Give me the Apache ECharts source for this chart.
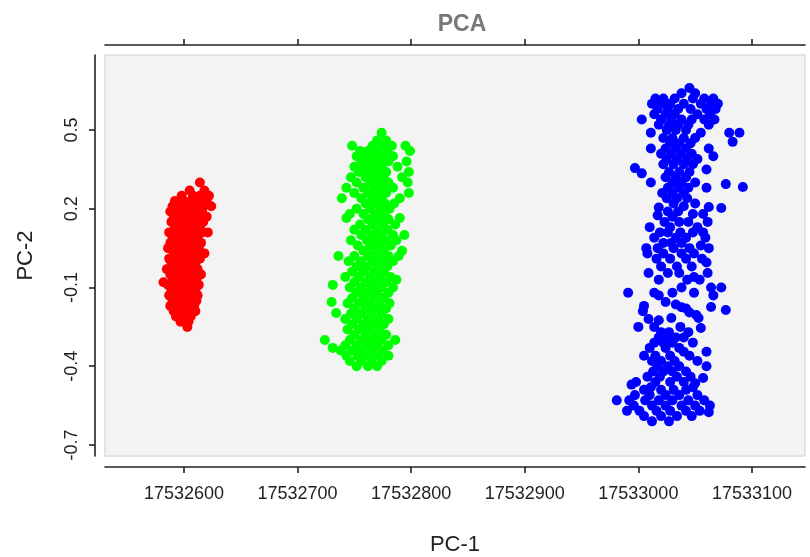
<!DOCTYPE html>
<html>
<head>
<meta charset="utf-8">
<script src="https://cdn.jsdelivr.net/npm/echarts@6/dist/echarts.min.js"></script>
<style>html,body{margin:0;padding:0;background:#fff}#c{width:810px;height:557px}</style>
</head>
<body>
<div id="c"></div>
<script>
const chartTitle = "PCA";
const xName = "PC-1";
const yName = "PC-2";
const xTicks = [17532600, 17532700, 17532800, 17532900, 17533000, 17533100];
const yTicks = [-0.7, -0.4, -0.1, 0.2, 0.5];
const xRange = [17532530.5, 17533146.7];
const yRange = [-0.742, 0.786];

const redPoints = [
[17532614,0.30],
[17532605,0.27],[17532618,0.27],
[17532598,0.25],[17532608,0.25],[17532614,0.25],[17532622,0.25],
[17532592,0.23],[17532600,0.23],[17532606,0.23],[17532613,0.23],[17532620,0.23],
[17532590,0.21],[17532597,0.21],[17532604,0.21],[17532611,0.21],[17532617,0.21],[17532624,0.21],
[17532588,0.19],[17532595,0.19],[17532602,0.19],[17532609,0.19],[17532616,0.19],
[17532591,0.17],[17532599,0.17],[17532606,0.17],[17532613,0.17],[17532620,0.17],
[17532589,0.15],[17532596,0.15],[17532603,0.15],[17532610,0.15],[17532617,0.15],
[17532592,0.13],[17532600,0.13],[17532607,0.13],[17532614,0.13],
[17532587,0.11],[17532595,0.11],[17532602,0.11],[17532609,0.11],[17532616,0.11],[17532621,0.11],
[17532590,0.09],[17532598,0.09],[17532605,0.09],[17532612,0.09],
[17532588,0.07],[17532594,0.07],[17532601,0.07],[17532608,0.07],[17532615,0.07],
[17532586,0.05],[17532593,0.05],[17532600,0.05],[17532606,0.05],[17532613,0.05],
[17532591,0.03],[17532598,0.03],[17532605,0.03],[17532611,0.03],[17532618,0.03],
[17532587,0.01],[17532594,0.01],[17532601,0.01],[17532608,0.01],[17532614,0.01],
[17532589,-0.01],[17532596,-0.01],[17532603,-0.01],[17532610,-0.01],
[17532585,-0.03],[17532592,-0.03],[17532599,-0.03],[17532606,-0.03],[17532612,-0.03],
[17532588,-0.05],[17532595,-0.05],[17532602,-0.05],[17532609,-0.05],[17532615,-0.05],
[17532590,-0.07],[17532597,-0.07],[17532604,-0.07],[17532611,-0.07],
[17532582,-0.08],
[17532586,-0.09],[17532593,-0.09],[17532600,-0.09],[17532607,-0.09],[17532613,-0.09],
[17532589,-0.11],[17532596,-0.11],[17532603,-0.11],[17532610,-0.11],
[17532587,-0.13],[17532594,-0.13],[17532601,-0.13],[17532608,-0.13],[17532612,-0.13],
[17532590,-0.15],[17532597,-0.15],[17532604,-0.15],[17532611,-0.15],
[17532588,-0.17],[17532595,-0.17],[17532602,-0.17],[17532609,-0.17],
[17532591,-0.19],[17532598,-0.19],[17532605,-0.19],[17532610,-0.19],
[17532593,-0.21],[17532600,-0.21],[17532606,-0.21],
[17532597,-0.23],[17532604,-0.23],
[17532603,-0.25]
];

const greenPoints = [
[17532774,0.49],
[17532770,0.46],[17532778,0.46],
[17532748,0.44],[17532766,0.44],[17532775,0.44],[17532783,0.44],[17532795,0.44],
[17532755,0.42],[17532762,0.42],[17532770,0.42],[17532779,0.42],[17532799,0.42],
[17532752,0.40],[17532760,0.40],[17532768,0.40],[17532776,0.40],[17532784,0.40],
[17532756,0.38],[17532764,0.38],[17532772,0.38],[17532780,0.38],[17532796,0.38],
[17532750,0.36],[17532758,0.36],[17532766,0.36],[17532774,0.36],[17532788,0.36],
[17532754,0.34],[17532762,0.34],[17532770,0.34],[17532778,0.34],[17532798,0.34],
[17532747,0.32],[17532760,0.32],[17532768,0.32],[17532776,0.32],[17532792,0.32],
[17532752,0.30],[17532764,0.30],[17532772,0.30],[17532780,0.30],[17532797,0.30],
[17532743,0.28],[17532758,0.28],[17532767,0.28],[17532775,0.28],[17532784,0.28],
[17532750,0.26],[17532762,0.26],[17532770,0.26],[17532778,0.26],[17532798,0.26],
[17532739,0.24],[17532756,0.24],[17532766,0.24],[17532774,0.24],[17532790,0.24],
[17532760,0.22],[17532769,0.22],[17532777,0.22],[17532785,0.22],
[17532752,0.20],[17532764,0.20],[17532773,0.20],[17532781,0.20],
[17532746,0.18],[17532758,0.18],[17532768,0.18],[17532776,0.18],
[17532743,0.165],[17532790,0.165],
[17532762,0.16],[17532771,0.16],[17532780,0.16],
[17532755,0.14],[17532766,0.14],[17532775,0.14],[17532786,0.14],
[17532750,0.12],[17532760,0.12],[17532770,0.12],[17532779,0.12],
[17532794,0.10],[17532756,0.10],[17532765,0.10],[17532774,0.10],[17532784,0.10],
[17532747,0.08],[17532761,0.08],[17532769,0.08],[17532778,0.08],[17532787,0.08],
[17532753,0.06],[17532764,0.06],[17532773,0.06],[17532782,0.06],
[17532792,0.04],[17532758,0.04],[17532767,0.04],[17532776,0.04],
[17532736,0.02],[17532750,0.02],[17532762,0.02],[17532771,0.02],[17532780,0.02],[17532789,0.02],
[17532745,0.00],[17532756,0.00],[17532766,0.00],[17532775,0.00],[17532784,0.00],
[17532752,-0.02],[17532761,-0.02],[17532770,-0.02],[17532779,-0.02],
[17532748,-0.04],[17532758,-0.04],[17532767,-0.04],[17532776,-0.04],
[17532742,-0.06],[17532754,-0.06],[17532764,-0.06],[17532773,-0.06],[17532782,-0.06],
[17532787,-0.07],
[17532731,-0.09],[17532750,-0.08],[17532760,-0.08],[17532769,-0.08],[17532778,-0.08],
[17532746,-0.10],[17532756,-0.10],[17532765,-0.10],[17532774,-0.10],[17532784,-0.10],
[17532752,-0.12],[17532761,-0.12],[17532770,-0.12],[17532780,-0.12],
[17532730,-0.155],[17532748,-0.14],[17532758,-0.14],[17532767,-0.14],[17532776,-0.14],
[17532744,-0.16],[17532754,-0.16],[17532763,-0.16],[17532772,-0.16],[17532781,-0.16],
[17532734,-0.197],[17532750,-0.18],[17532760,-0.18],[17532769,-0.18],[17532778,-0.18],
[17532747,-0.20],[17532756,-0.20],[17532765,-0.20],[17532774,-0.20],
[17532742,-0.22],[17532752,-0.22],[17532762,-0.22],[17532771,-0.22],[17532780,-0.22],
[17532748,-0.24],[17532758,-0.24],[17532767,-0.24],[17532776,-0.24],
[17532744,-0.26],[17532754,-0.26],[17532763,-0.26],[17532772,-0.26],
[17532750,-0.28],[17532760,-0.28],[17532769,-0.28],[17532778,-0.28],
[17532724,-0.30],[17532746,-0.30],[17532756,-0.30],[17532765,-0.30],[17532774,-0.30],[17532786,-0.30],
[17532731,-0.33],[17532742,-0.32],[17532752,-0.32],[17532761,-0.32],[17532770,-0.32],[17532780,-0.32],
[17532738,-0.34],[17532748,-0.34],[17532757,-0.34],[17532766,-0.34],[17532775,-0.34],
[17532743,-0.36],[17532753,-0.36],[17532762,-0.36],[17532771,-0.36],[17532780,-0.36],
[17532746,-0.38],[17532756,-0.38],[17532765,-0.38],[17532774,-0.38],
[17532752,-0.40],[17532762,-0.40],[17532770,-0.40]
];

const bluePoints = [
[17533045,0.66],
[17533038,0.64],[17533050,0.64],
[17533015,0.62],[17533022,0.62],[17533032,0.62],[17533048,0.62],[17533058,0.62],[17533066,0.62],
[17533012,0.60],[17533020,0.60],[17533028,0.60],[17533040,0.60],[17533055,0.60],[17533064,0.60],[17533070,0.60],
[17533017,0.58],[17533026,0.58],[17533035,0.58],[17533046,0.58],[17533060,0.58],[17533068,0.58],
[17533014,0.56],[17533024,0.56],[17533032,0.56],[17533052,0.56],[17533063,0.56],
[17533003,0.54],[17533020,0.54],[17533029,0.54],[17533038,0.54],[17533047,0.54],[17533058,0.54],[17533067,0.54],
[17533018,0.52],[17533027,0.52],[17533035,0.52],[17533044,0.52],[17533062,0.52],
[17533025,0.50],[17533033,0.50],[17533042,0.50],[17533080,0.49],[17533089,0.49],
[17533011,0.49],[17533055,0.49],
[17533022,0.47],[17533030,0.47],[17533040,0.47],[17533050,0.47],[17533083,0.455],
[17533028,0.45],[17533036,0.45],[17533046,0.45],
[17533011,0.43],[17533024,0.43],[17533033,0.43],[17533042,0.43],[17533062,0.43],
[17533020,0.41],[17533029,0.41],[17533038,0.41],[17533047,0.41],[17533066,0.40],
[17533025,0.39],[17533034,0.39],[17533043,0.39],[17533052,0.39],
[17533022,0.37],[17533031,0.37],[17533040,0.37],[17533048,0.37],[17533060,0.35],
[17532997,0.355],
[17533003,0.335],[17533027,0.34],[17533036,0.34],[17533045,0.34],
[17533024,0.32],[17533033,0.32],[17533042,0.32],
[17533011,0.30],[17533030,0.30],[17533038,0.30],[17533050,0.30],[17533077,0.294],
[17533026,0.28],[17533035,0.28],[17533044,0.28],[17533060,0.28],[17533092,0.283],
[17533021,0.26],[17533030,0.26],[17533040,0.26],
[17533025,0.24],[17533034,0.24],[17533043,0.24],
[17533031,0.22],[17533050,0.22],
[17533018,0.205],[17533040,0.21],[17533062,0.207],[17533073,0.203],
[17533026,0.19],[17533035,0.19],[17533048,0.18],[17533057,0.18],
[17533017,0.175],[17533030,0.17],
[17533023,0.15],[17533036,0.15],[17533044,0.15],[17533061,0.15],
[17533010,0.13],[17533028,0.13],[17533052,0.13],
[17533019,0.11],[17533026,0.11],[17533037,0.11],[17533048,0.11],[17533057,0.11],
[17533014,0.09],[17533033,0.09],[17533042,0.09],[17533059,0.09],
[17533022,0.07],[17533029,0.07],[17533038,0.07],[17533055,0.06],
[17533007,0.05],[17533017,0.05],[17533031,0.05],[17533045,0.05],[17533062,0.05],
[17533008,0.03],[17533022,0.03],[17533038,0.03],[17533049,0.03],
[17533016,0.01],[17533028,0.01],[17533042,0.01],[17533056,0.01],
[17533060,-0.005],
[17533020,-0.02],[17533034,-0.02],[17533047,-0.02],
[17533009,-0.045],[17533026,-0.045],[17533036,-0.045],[17533049,-0.06],[17533061,-0.045],
[17533018,-0.07],[17533043,-0.07],[17533054,-0.07],
[17533038,-0.10],[17533064,-0.10],[17533073,-0.10],
[17532991,-0.12],[17533014,-0.12],[17533030,-0.12],[17533049,-0.12],
[17533018,-0.13],[17533066,-0.13],
[17533024,-0.155],[17533033,-0.165],[17533042,-0.18],
[17533005,-0.17],[17533038,-0.175],[17533064,-0.174],
[17533004,-0.19],[17533045,-0.195],[17533077,-0.186],
[17533051,-0.205],
[17533009,-0.22],[17533018,-0.225],[17533029,-0.216],[17533053,-0.216],
[17533000,-0.25],[17533014,-0.25],[17533037,-0.25],[17533055,-0.254],
[17533020,-0.27],[17533027,-0.27],[17533044,-0.27],
[17533018,-0.29],[17533026,-0.29],[17533033,-0.29],[17533040,-0.29],
[17533014,-0.31],[17533022,-0.31],[17533030,-0.31],[17533048,-0.31],
[17533010,-0.33],[17533024,-0.33],[17533036,-0.33],[17533060,-0.345],
[17533040,-0.345],
[17533005,-0.36],[17533015,-0.36],[17533028,-0.36],[17533045,-0.36],
[17533012,-0.38],[17533020,-0.38],[17533032,-0.38],[17533052,-0.38],
[17533017,-0.40],[17533026,-0.40],[17533036,-0.40],[17533060,-0.40],
[17533013,-0.42],[17533022,-0.42],[17533030,-0.42],[17533042,-0.42],
[17533008,-0.44],[17533019,-0.44],[17533034,-0.44],[17533046,-0.44],[17533057,-0.445],
[17532998,-0.46],[17533015,-0.46],[17533028,-0.46],[17533040,-0.46],[17533050,-0.465],
[17532994,-0.47],[17533011,-0.48],[17533048,-0.48],
[17533005,-0.49],[17533020,-0.49],[17533031,-0.49],[17533042,-0.49],
[17532997,-0.51],[17533010,-0.51],[17533024,-0.51],[17533036,-0.51],[17533052,-0.51],
[17532981,-0.53],[17532992,-0.53],[17533006,-0.53],[17533018,-0.53],[17533030,-0.53],[17533044,-0.53],[17533058,-0.53],
[17532996,-0.55],[17533012,-0.55],[17533024,-0.55],[17533038,-0.55],[17533050,-0.55],[17533063,-0.55],
[17532990,-0.57],[17533001,-0.57],[17533016,-0.57],[17533028,-0.57],[17533042,-0.57],[17533054,-0.57],[17533062,-0.575],
[17533005,-0.59],[17533020,-0.59],[17533034,-0.59],[17533047,-0.59],
[17533012,-0.61],[17533027,-0.61]
];

const groups = [
  { name: "A", color: "#ff0000", data: redPoints },
  { name: "B", color: "#00ff00", data: greenPoints },
  { name: "C", color: "#0000ff", data: bluePoints }
];

const FONT = "'Liberation Sans', Arial, sans-serif";
const chart = echarts.init(document.getElementById('c'), null, { renderer: 'canvas' });
const axisLine = { show: true, onZero: false, lineStyle: { color: '#222', width: 1.6 } };

chart.setOption({
  animation: false,
  backgroundColor: '#ffffff',
  title: {
    text: chartTitle,
    left: 457, top: 8, textAlign: 'center',
    textStyle: { fontFamily: FONT, fontSize: 23, fontWeight: 'bold', color: '#777' }
  },
  grid: {
    left: 105, right: 5, top: 55, bottom: 101,
    outerBoundsMode: 'none', containLabel: false,
    show: true, backgroundColor: '#f3f3f3', borderColor: '#dcdcdc', borderWidth: 1.5
  },
  xAxis: [
    {
      type: 'value', position: 'bottom', offset: 11,
      min: xRange[0], max: xRange[1],
      name: xName, nameLocation: 'middle', nameGap: 67,
      nameTextStyle: { fontFamily: FONT, fontSize: 22, color: '#222' },
      axisLine: axisLine,
      axisTick: { show: true, length: 6, customValues: xTicks, lineStyle: { color: '#222', width: 1.6 } },
      axisLabel: { customValues: xTicks, margin: 18, fontFamily: FONT, fontSize: 18, color: '#222',
        formatter: v => String(Math.round(v)) },
      splitLine: { show: false }
    },
    {
      type: 'value', position: 'top', offset: 10,
      min: xRange[0], max: xRange[1],
      axisLine: axisLine,
      axisTick: { show: true, length: 6, customValues: xTicks, lineStyle: { color: '#222', width: 1.6 } },
      axisLabel: { show: false },
      splitLine: { show: false }
    }
  ],
  yAxis: {
    type: 'value', position: 'left', offset: 10,
    min: yRange[0], max: yRange[1],
    name: yName, nameLocation: 'middle', nameGap: 58,
    nameTextStyle: { fontFamily: FONT, fontSize: 22, color: '#222' },
    axisLine: axisLine,
    axisTick: { show: true, length: 6, customValues: yTicks, lineStyle: { color: '#222', width: 1.6 } },
    axisLabel: { customValues: yTicks, rotate: 90, margin: 14, fontFamily: FONT, fontSize: 18, color: '#222',
      formatter: v => (Math.round(v * 10) / 10).toFixed(1) },
    splitLine: { show: false }
  },
  series: groups.map(g => ({
    type: 'scatter', name: g.name, data: g.data,
    symbol: 'circle', symbolSize: 10,
    itemStyle: { color: g.color, opacity: 1 },
    xAxisIndex: 0, yAxisIndex: 0
  }))
});
</script>
</body>
</html>
